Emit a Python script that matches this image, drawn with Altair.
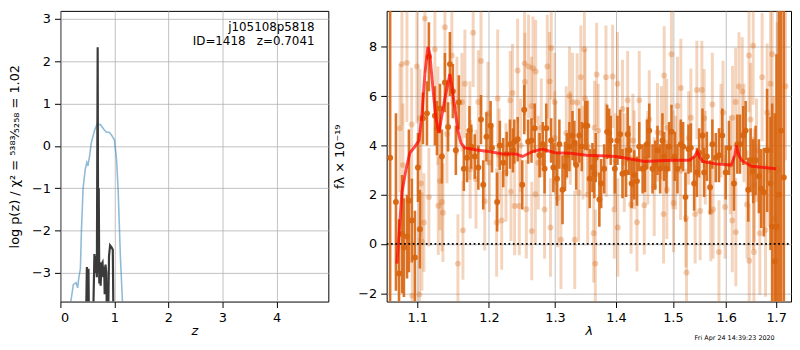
import altair as alt
import pandas as pd

# ---------------- left panel: redshift probability ----------------
z_chi = [0.19, 0.24, 0.29, 0.32, 0.34, 0.37, 0.39, 0.42, 0.46, 0.49, 0.51, 0.54, 0.57,
         0.63, 0.68, 0.74, 0.79, 0.81, 0.85, 0.91, 0.95, 1.00, 1.04, 1.07, 1.11, 1.15]
logp_chi = [-3.70, -3.27, -3.23, -3.35, -3.12, -2.90, -1.98, -1.00, -0.55, -0.39, -0.47, -0.24, 0.06,
            0.36, 0.52, 0.50, 0.42, 0.38, 0.33, 0.32, 0.25, 0.14, -0.32, -1.07, -2.60, -3.70]

z_pz = [0.47, 0.49, 0.505, 0.52, 0.53, 0.60, 0.63, 0.645, 0.66, 0.675, 0.69, 0.70, 0.71,
        0.72, 0.73, 0.745, 0.76, 0.78, 0.795, 0.81, 0.82, 0.835, 0.85, 0.865, 0.88, 0.90,
        0.92, 0.95, 0.97, 0.985]
logp_pz = [-4.5, -2.86, -4.5, -2.90, -4.5, -4.5, -2.55, -3.00, -2.60, -3.10, 2.33, -3.00, -1.00,
           -3.25, -2.75, -3.30, -2.80, -2.75, -3.10, -2.85, -3.50, -2.80, -3.00, -4.5, -4.5, -2.60,
           -2.35, -2.40, -2.45, -4.5]

z_ticks = [0, 1, 2, 3, 4]
logp_ticks = [-3, -2, -1, 0, 1, 2, 3]

# ---------------- right panel: spectrum ----------------
lam_d = [1.0645, 1.0720, 1.0760, 1.0800, 1.0824, 1.0865, 1.0890, 1.0929, 1.0970, 1.1010,
         1.1036, 1.1077, 1.1131, 1.1157, 1.1239, 1.1267, 1.1308, 1.1335, 1.1376, 1.1420,
         1.1445, 1.1486, 1.1528, 1.1570, 1.1640, 1.1686, 1.1720, 1.1746, 1.1795, 1.1847,
         1.1885, 1.1917, 1.1964, 1.2024, 1.2045, 1.2120, 1.2160, 1.2210, 1.2261, 1.2310,
         1.2355, 1.2375, 1.2426, 1.2495, 1.2525, 1.2585, 1.2636, 1.2685, 1.2760, 1.2810,
         1.2838, 1.2864, 1.2940, 1.2975, 1.3033, 1.3070, 1.3120, 1.3160, 1.3190, 1.3230,
         1.3280, 1.3310, 1.3340, 1.3390, 1.3430, 1.3485, 1.3520, 1.3560, 1.3605, 1.3637,
         1.3660, 1.3720, 1.3750, 1.3800, 1.3850, 1.3885, 1.3910, 1.3980, 1.4025, 1.4070,
         1.4110, 1.4171, 1.4199, 1.4227, 1.4267, 1.4313, 1.4360, 1.4400, 1.4459, 1.4500,
         1.4535, 1.4576, 1.4634, 1.4682, 1.4722, 1.4770, 1.4811, 1.4842, 1.4883, 1.4932,
         1.4974, 1.5035, 1.5083, 1.5145, 1.5187, 1.5230, 1.5286, 1.5330, 1.5391, 1.5442,
         1.5485, 1.5548, 1.5579, 1.5630, 1.5692, 1.5735, 1.5800, 1.5862, 1.5926, 1.5992,
         1.6056, 1.6153, 1.6219, 1.6271, 1.6336, 1.6384, 1.6435, 1.6482, 1.6534, 1.6582,
         1.6649, 1.6695, 1.6749, 1.6816, 1.6885, 1.6918, 1.6973, 1.7008, 1.7055, 1.7103,
         1.7160]
flux_d = [3.5, 1.7, -1.2, 0.4, -0.15, 0.3, 1.75, 0.95, -0.55, 3.1,
          0.6, 5.1, 5.3, 7.6, 5.2, 4.7, 5.5, 3.55, 6.55, 4.75,
          7.3, 6.2, 3.8, 5.75, 3.05, 3.5, 4.6, 3.95, 3.55, 3.1,
          5.05, 2.4, 4.35, 4.8, 3.9, 1.7, 4.0, 3.3, 3.65, 4.05,
          3.8, 4.15, 4.25, 2.4, 5.45, 4.15, 4.2, 4.7, 3.6, 4.05,
          3.05, 4.7, 4.2, 3.1, 2.65, 4.05, 2.2, 3.15, 3.6, 3.95,
          4.4, 4.1, 3.2, 4.4, 3.95, 4.8, 4.8, 2.65, 3.1, 2.85,
          3.5, 1.8, 2.45, 3.05, 4.55, 4.5, 4.2, 3.05, 4.2, 4.45,
          2.85, 2.9, 4.45, 3.8, 2.45, 2.8, 2.55, 3.95, 3.05, 3.1,
          4.05, 4.6, 3.05, 3.2, 3.8, 3.05, 4.2, 3.55, 3.05, 3.95,
          4.55, 3.55, 3.05, 4.05, 3.95, 1.9, 3.85, 3.9, 2.45, 2.9,
          3.7, 4.4, 2.9, 3.55, 2.3, 4.05, 3.5, 3.6, 4.4, 2.9,
          3.9, 2.45, 4.05, 4.05, 4.4, 4.6, 2.2, 3.4, 2.95, 3.4,
          2.75, 2.25, 2.1, 3.8, 2.45, 0.7, -0.7, 0.7, 2.0, 4.6,
          2.7]
err_d = [12.0, 3.6, 2.2, 2.4, 2.0, 1.7, 2.9, 1.7, 1.9, 1.4,
         1.6, 1.05, 1.3, 1.4, 1.2, 1.1, 1.0, 1.1, 1.2, 1.0,
         1.3, 1.1, 1.0, 1.1, 0.9, 1.0, 1.0, 0.9, 0.9, 0.9,
         1.0, 1.0, 1.0, 1.0, 1.0, 1.2, 1.0, 1.0, 0.9, 1.0,
         0.9, 0.9, 0.9, 1.0, 1.0, 0.9, 0.9, 1.0, 0.9, 0.9,
         1.0, 1.0, 0.9, 1.0, 1.1, 1.0, 1.4, 1.0, 0.9, 1.0,
         1.0, 0.9, 1.0, 1.1, 1.0, 1.0, 1.0, 1.2, 1.0, 1.0,
         1.0, 1.1, 1.0, 1.0, 1.1, 1.0, 1.0, 1.0, 1.0, 1.0,
         1.0, 1.0, 1.1, 1.0, 1.0, 1.0, 1.0, 1.0, 1.0, 1.0,
         1.0, 1.1, 1.0, 1.0, 1.0, 1.0, 1.1, 1.0, 1.0, 1.0,
         1.1, 1.0, 1.0, 1.0, 1.0, 1.0, 1.0, 1.0, 1.1, 1.0,
         1.0, 1.1, 1.0, 1.0, 1.1, 1.0, 1.0, 1.1, 1.1, 1.1,
         1.1, 1.1, 1.2, 1.2, 1.2, 1.2, 1.3, 1.3, 1.3, 1.4,
         1.5, 1.6, 1.8, 2.5, 2.7, 5.0, 6.0, 7.0, 8.0, 12.0,
         12.0]

lam_l = [1.0772, 1.0798, 1.0811, 1.0864, 1.0926, 1.0935, 1.0996, 1.1030, 1.1036, 1.1050,
         1.1063, 1.1090, 1.1103, 1.1157, 1.1239, 1.1280, 1.1285, 1.1308, 1.1335, 1.1349,
         1.1376, 1.1404, 1.1472, 1.1543, 1.1557, 1.1613, 1.1627, 1.1655, 1.1726, 1.1730,
         1.1773, 1.1813, 1.1847, 1.1885, 1.1939, 1.1985, 1.2009, 1.2113, 1.2128, 1.2187,
         1.2251, 1.2314, 1.2325, 1.2348, 1.2380, 1.2425, 1.2450, 1.2531, 1.2535, 1.2557,
         1.2591, 1.2636, 1.2640, 1.2658, 1.2695, 1.2700, 1.2787, 1.2838, 1.2880, 1.2916,
         1.2930, 1.2942, 1.2995, 1.3045, 1.3095, 1.3232, 1.3280, 1.3316, 1.3355, 1.3380,
         1.3415, 1.3473, 1.3484, 1.3526, 1.3625, 1.3653, 1.3675, 1.3830, 1.3942, 1.3971,
         1.4025, 1.4030, 1.4110, 1.4199, 1.4257, 1.4360, 1.4400, 1.4488, 1.4576, 1.4664,
         1.4830, 1.4842, 1.4890, 1.4974, 1.5010, 1.5083, 1.5145, 1.5237, 1.5250, 1.5330,
         1.5410, 1.5442, 1.5504, 1.5536, 1.5579, 1.5705, 1.5735, 1.5862, 1.5940, 1.5979,
         1.6120, 1.6125, 1.6186, 1.6190, 1.6251, 1.6316, 1.6450, 1.6455, 1.6482, 1.6534,
         1.6548, 1.6668, 1.6714, 1.6783, 1.6816, 1.6885, 1.6918, 1.6950, 1.7020, 1.7195,
         1.2150, 1.2470, 1.2740, 1.3010, 1.3180, 1.3450, 1.3700, 1.3990, 1.4290, 1.4550,
         1.4790, 1.5050, 1.5290, 1.5600, 1.5900, 1.6080, 1.6350, 1.6600, 1.6850, 1.4141,
         1.4313, 1.4722, 1.4888, 1.5140, 1.5000, 1.6410, 1.6540, 1.6555, 1.5750, 1.3530,
         1.3640, 1.3835, 1.2998, 1.3245]
flux_l = [4.7, 7.3, 3.2, 7.35, 4.85, -2.1, 7.2, -2.05, 5.1, 2.45,
          0.1, 0.87, 9.15, 1.9, 7.9, 5.2, 1.55, 2.55, 1.7, 1.27,
          8.8, 4.46, 7.65, 5.6, -0.8, 5.75, 0.55, 6.5, 4.6, 3.03,
          8.57, 2.63, 5.76, 7.43, 1.73, 5.3, 3.3, 0.87, 5.9, 0.95,
          2.9, 5.83, 2.12, 6.13, 1.54, 7.04, 1.54, 7.33, 6.57, 1.41,
          7.2, 5.6, 0.52, 7.13, 2.02, 7.0, 4.72, 1.4, 7.2, 6.6,
          0.67, 7.95, 5.76, 1.86, 0.17, 6.0, 5.76, 0.17, 5.74, 2.09,
          6.77, 7.9, 5.9, 2.0, 0.43, -0.8, 6.88, 6.77, 6.8, 1.4,
          6.5, 0.67, 5.48, 5.83, 1.6, 0.88, 5.83, 1.57, 5.05, 2.32,
          1.21, 6.84, 2.2, 7.7, 1.66, 5.6, 6.33, 1.05, -1.16, 5.12,
          1.21, 6.25, 1.34, 6.25, 5.1, 1.3, 5.66, -0.33, 5.34, 1.5,
          0.95, 5.12, 5.76, 0.48, 6.39, 6.19, 7.65, -0.68, 5.05, 8.05,
          -0.33, 0.43, 6.77, 0.56, 5.34, 6.5, 7.7, 1.0, 3.0, 6.4,
          3.6, 4.0, 3.3, 3.9, 4.5, 3.7, 4.6, 3.4, 4.2, 3.5,
          4.5, 3.3, 4.3, 3.5, 4.6, 3.2, 4.5, 3.8, 3.0, 3.3,
          3.42, 4.53, 4.72, 2.97, 3.42, 1.6, 2.05, 2.38, 1.4, 3.95,
          4.72, 3.8, 4.3, 4.3]
err_l = [2.6, 2.5, 2.5, 2.4, 2.3, 2.2, 2.3, 2.3, 2.0, 2.2,
         2.0, 2.0, 2.2, 2.0, 2.2, 2.0, 2.0, 2.0, 2.0, 2.0,
         2.0, 2.0, 2.0, 2.0, 2.0, 2.0, 2.0, 2.2, 2.0, 2.0,
         2.2, 2.0, 2.1, 2.2, 2.0, 2.1, 2.0, 2.2, 2.8, 2.0,
         2.0, 2.0, 2.0, 2.0, 2.0, 2.1, 2.0, 2.1, 2.0, 2.0,
         2.1, 2.0, 2.0, 2.1, 2.0, 2.1, 2.0, 2.0, 2.1, 2.0,
         2.0, 2.1, 2.0, 2.0, 2.0, 2.0, 2.0, 2.0, 2.0, 2.0,
         2.1, 2.1, 2.0, 2.0, 2.0, 2.2, 2.1, 2.1, 2.1, 2.0,
         2.1, 2.0, 2.0, 2.0, 2.0, 2.0, 2.0, 2.0, 2.0, 2.0,
         2.0, 2.0, 2.0, 2.2, 2.0, 2.0, 2.0, 2.0, 2.2, 2.0,
         2.0, 2.0, 2.0, 2.0, 2.0, 2.0, 2.1, 2.1, 2.1, 2.1,
         2.1, 2.1, 2.2, 2.2, 2.2, 2.2, 2.3, 2.3, 2.3, 2.4,
         2.4, 2.5, 2.6, 2.7, 2.8, 3.5, 4.0, 5.0, 6.0, 3.0,
         1.9, 1.9, 1.9, 1.9, 1.9, 1.9, 1.9, 1.9, 1.9, 1.9,
         1.9, 1.9, 1.9, 1.9, 1.9, 2.0, 2.0, 2.1, 2.3, 2.0,
         2.0, 2.0, 2.0, 2.0, 2.0, 2.2, 2.3, 2.3, 2.0, 1.9,
         1.9, 1.9, 1.9, 1.9]

lam_model = [1.0733, 1.0798, 1.0851, 1.0903, 1.0970, 1.1023, 1.1063, 1.1103, 1.1144, 1.1170,
             1.1212, 1.1253, 1.1294, 1.1321, 1.1376, 1.1445, 1.1472, 1.1515, 1.1557, 1.1599,
             1.1655, 1.1800, 1.2000, 1.2200, 1.2400, 1.2500, 1.2650, 1.2800, 1.3000, 1.3250,
             1.3500, 1.3750, 1.4000, 1.4250, 1.4500, 1.4750, 1.5000, 1.5300, 1.5400, 1.5450,
             1.5500, 1.5550, 1.5800, 1.6100, 1.6170, 1.6200, 1.6250, 1.6300, 1.6500, 1.6750,
             1.7000]
flux_model = [-0.8, 2.1, 3.0, 3.7, 3.95, 4.2, 5.2, 6.9, 8.0, 7.7,
              6.3, 5.1, 4.5, 5.0, 5.9, 6.9, 6.4, 5.5, 4.6, 4.1,
              3.9, 3.82, 3.75, 3.65, 3.65, 3.55, 3.75, 3.85, 3.7, 3.68,
              3.6, 3.58, 3.55, 3.45, 3.35, 3.38, 3.4, 3.4, 3.55, 3.75,
              3.5, 3.35, 3.25, 3.2, 3.6, 4.0, 3.6, 3.4, 3.15, 3.1,
              3.05]

lam_ticks = [1.1, 1.2, 1.3, 1.4, 1.5, 1.6, 1.7]
flux_ticks = [-2, 0, 2, 4, 6, 8]

label_top = "j105108p5818"
label_id = "ID=1418\u00a0\u00a0\u00a0z=0.7041"
timestamp = "Fri Apr 24 14:39:23 2020"
ytitle_left = "log p(z) / χ² = ⁵³⁸³⁄₅₂₅₈ = 1.02"
ytitle_right = "fλ × 10⁻¹⁹"

# ---------------- build tables ----------------
df_chi = pd.DataFrame({"z": z_chi, "v": logp_chi})
df_pz = pd.DataFrame({"z": z_pz, "v": logp_pz})
df_d = pd.DataFrame({"lam": lam_d, "f": flux_d, "e": err_d})
df_d["lo"] = df_d["f"] - df_d["e"]
df_d["hi"] = df_d["f"] + df_d["e"]
df_l = pd.DataFrame({"lam": lam_l, "f": flux_l, "e": err_l})
df_l["lo"] = df_l["f"] - df_l["e"]
df_l["hi"] = df_l["f"] + df_l["e"]
df_m = pd.DataFrame({"lam": lam_model, "f": flux_model})
df_zero = pd.DataFrame({"lam": [1.06, 1.731], "f": [0.0, 0.0]})

W1, W2, H = 271, 409, 294

zx = alt.X("z:Q", scale=alt.Scale(domain=[0, 4.96], nice=False, zero=False),
           axis=alt.Axis(values=z_ticks, title="z", titleFontStyle="italic", titlePadding=0))
zy = alt.Y("v:Q", scale=alt.Scale(domain=[-3.675, 3.19], nice=False, zero=False),
           axis=alt.Axis(values=logp_ticks, title=ytitle_left, titlePadding=10))

blue = alt.Chart(df_chi).mark_line(color="#1f77b4", opacity=0.5, strokeWidth=1.6, clip=True).encode(x=zx, y=zy)
black = alt.Chart(df_pz).mark_line(color="#3a3a3a", strokeWidth=2.2, clip=True).encode(x=zx, y=zy)
txt1 = alt.Chart(pd.DataFrame({"t": [label_top]})).mark_text(
    align="right", baseline="alphabetic", fontSize=12, font="DejaVu Sans", color="black"
).encode(text="t:N", x=alt.value(257), y=alt.value(20))
txt2 = alt.Chart(pd.DataFrame({"t": [label_id]})).mark_text(
    align="right", baseline="alphabetic", fontSize=12, font="DejaVu Sans", color="black"
).encode(text="t:N", x=alt.value(257), y=alt.value(35))

left = alt.layer(blue, black, txt1, txt2).properties(width=W1, height=H)

lx = alt.X("lam:Q", scale=alt.Scale(type="log", domain=[1.06, 1.731], nice=False, zero=False),
           axis=alt.Axis(values=lam_ticks, format=".1f", title="λ", titleFontStyle="italic", titlePadding=0))
ly = alt.Y("f:Q", scale=alt.Scale(domain=[-2.34, 9.46], nice=False, zero=False),
           axis=alt.Axis(values=flux_ticks, title=ytitle_right, titlePadding=11))

ORANGE = "#d8650f"
l_bar = alt.Chart(df_l).mark_rule(color=ORANGE, opacity=0.28, strokeWidth=3, clip=True).encode(
    x=lx, y=alt.Y("lo:Q", scale=alt.Scale(domain=[-2.34, 9.46], nice=False, zero=False)), y2="hi:Q")
l_pt = alt.Chart(df_l).mark_circle(color=ORANGE, opacity=0.3, size=36, clip=True).encode(x=lx, y=ly)
d_bar = alt.Chart(df_d).mark_rule(color=ORANGE, opacity=0.9, strokeWidth=2.6, clip=True).encode(
    x=lx, y=alt.Y("lo:Q", scale=alt.Scale(domain=[-2.34, 9.46], nice=False, zero=False)), y2="hi:Q")
d_pt = alt.Chart(df_d).mark_circle(color=ORANGE, opacity=0.95, size=36, clip=True).encode(x=lx, y=ly)
model = alt.Chart(df_m).mark_line(color="red", opacity=0.7, strokeWidth=3, clip=True).encode(x=lx, y=ly)
zero = alt.Chart(df_zero).mark_line(color="black", strokeWidth=1.8, strokeDash=[1.8, 2.6], clip=True).encode(x=lx, y=ly)
stamp = alt.Chart(pd.DataFrame({"t": [timestamp]})).mark_text(
    align="center", baseline="middle", fontSize=6.5, font="DejaVu Sans", color="black"
).encode(text="t:N", x=alt.value(352), y=alt.value(331))

right = alt.layer(l_bar, l_pt, d_bar, d_pt, model, zero, stamp).properties(width=W2, height=H)

chart = alt.hconcat(left, right, spacing=4).properties(
    padding={"left": 0, "top": 0, "right": 0, "bottom": 0}
).configure_view(stroke="black", strokeWidth=1).configure_axis(
    domain=False, grid=True, gridColor="#b0b0b0", gridWidth=0.8,
    labelFont="DejaVu Sans", labelFontSize=13, labelColor="black", labelPadding=4,
    tickColor="black", tickSize=6, tickWidth=1,
    titleFont="DejaVu Sans", titleFontSize=13, titleFontWeight="normal", titleColor="black"
)

chart.save("out.html", embed_options={"renderer": "svg", "actions": False})
